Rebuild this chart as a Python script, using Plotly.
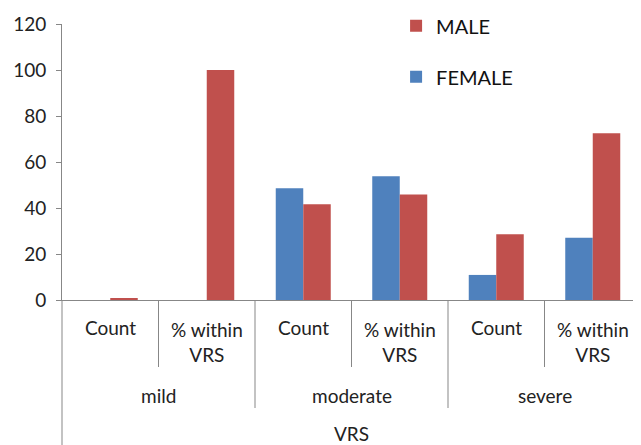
import plotly.graph_objects as go

# ---- data ----
groups = ["mild", "moderate", "severe"]
inner_labels = ["Count", "% within<br>VRS"]
outer_title = "VRS"
female = [0, 0, 48.6, 53.8, 10.9, 27.1]
male = [0.8, 100, 41.6, 45.9, 28.6, 72.5]
y_ticks = [0, 20, 40, 60, 80, 100, 120]

BLUE = "#4F81BD"
RED = "#C0504D"
AXIS = "#878787"
FONT = "Lato"
FS = 19

# the page body adds an 8px offset; size the figure so it fills the window
OFF = 8
W, HGT = 641 - OFF, 445 - OFF

n_inner = len(inner_labels)
xs = list(range(len(groups) * n_inner))
inner_text = [inner_labels[i % n_inner] for i in xs]

fig = go.Figure()
fig.add_trace(go.Bar(x=xs, y=female, name="FEMALE", marker=dict(color=BLUE, line=dict(width=0)),
                     legendgroup="f", legendrank=2))
fig.add_trace(go.Bar(x=xs, y=male, name="MALE", marker=dict(color=RED, line=dict(width=0)),
                     legendgroup="m", legendrank=1))

# plot-area geometry (page pixels) for converting label rows to paper coords
LEFT, TOP, BOTTOM = 62, 24, 300
H = BOTTOM - TOP


def py(p):
    return (BOTTOM - p) / H


annotations = []
for x, t in zip(xs, inner_text):
    two = "<br>" in t
    annotations.append(dict(x=x, y=py(316) if two else py(327), xref="x", yref="paper", text=t,
                            showarrow=False, yanchor="top" if two else "middle",
                            font=dict(family=FONT, size=FS, color="#222")))
for gi, g in enumerate(groups):
    annotations.append(dict(x=gi * n_inner + (n_inner - 1) / 2, y=py(395), xref="x", yref="paper",
                            text=g, showarrow=False, yanchor="middle",
                            font=dict(family=FONT, size=FS, color="#222")))
annotations.append(dict(x=(len(xs) - 1) / 2, y=py(433), xref="x", yref="paper", text=outer_title,
                        showarrow=False, yanchor="middle",
                        font=dict(family=FONT, size=FS, color="#222")))

shapes = []
for i in range(len(xs) - 1):
    b = i + 0.5
    is_group = (i + 1) % n_inner == 0
    shapes.append(dict(type="line", xref="x", yref="paper", x0=b, x1=b, y0=0,
                       y1=py(408) if is_group else py(367), line=dict(color=AXIS, width=1)))
# y-axis line extending below the plot through all label rows
shapes.append(dict(type="line", xref="paper", yref="paper", x0=0, x1=0, y0=0, y1=py(445),
                   line=dict(color=AXIS, width=1)))

fig.update_layout(
    width=W, height=HGT,
    margin=dict(l=LEFT - OFF, r=0, t=TOP - OFF, b=HGT - (BOTTOM - OFF), autoexpand=False),
    paper_bgcolor="white", plot_bgcolor="white",
    barmode="group", bargap=0.43, bargroupgap=0,
    font=dict(family=FONT, size=FS, color="#222"),
    xaxis=dict(range=[-0.5, len(xs) - 0.5], showticklabels=False, ticks="", showgrid=False,
               zeroline=False, showline=True, linecolor=AXIS, linewidth=1, fixedrange=True,
               automargin=False),
    yaxis=dict(range=[0, 120], tickvals=y_ticks, ticks="outside", ticklen=5, tickcolor=AXIS,
               showgrid=False, zeroline=False, showline=True, linecolor=AXIS, linewidth=1,
               tickfont=dict(family=FONT, size=FS, color="#222"), ticklabelstandoff=6,
               automargin=False),
    legend=dict(x=0.577, y=1.064, xanchor="left", yanchor="top", traceorder="grouped",
                tracegroupgap=22, font=dict(family=FONT, size=20, color="#111"),
                bgcolor="rgba(0,0,0,0)"),
    annotations=annotations,
    shapes=shapes,
)

fig.write_html("out.html")
